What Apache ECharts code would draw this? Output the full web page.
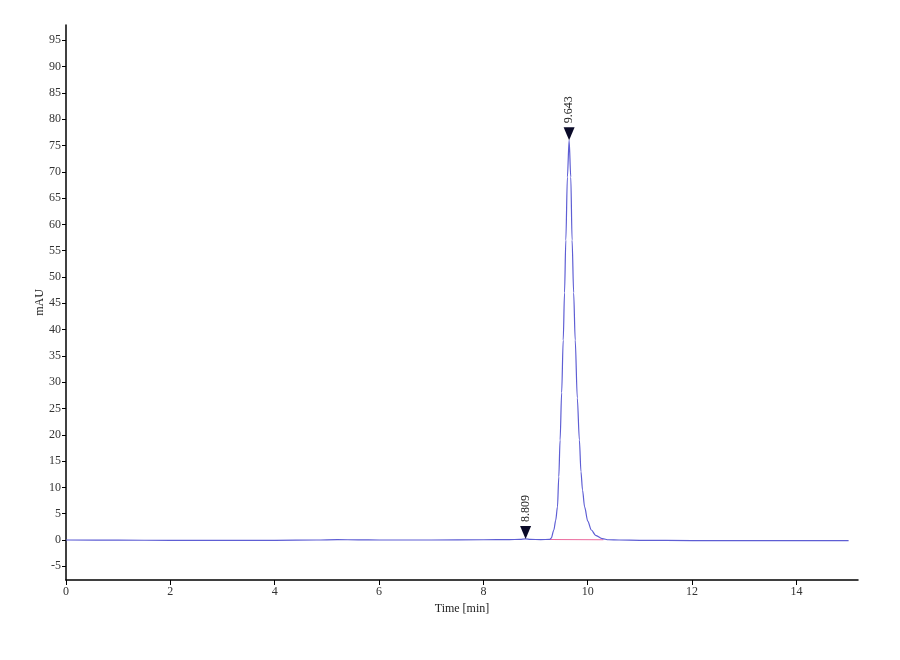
<!DOCTYPE html>
<html>
<head>
<meta charset="utf-8">
<script src="https://cdn.jsdelivr.net/npm/echarts@6/dist/echarts.min.js"></script>
<style>
  html, body { margin: 0; padding: 0; background: #fff; }
  #content { width: 900px; height: 660px; }
</style>
</head>
<body>
<div id="content"></div>
<script>
// chromatogram trace
const times = [0, 1, 2, 3, 4, 4.8, 5.2, 5.6, 6, 7, 8, 8.5, 8.7, 8.809, 8.9, 9.1, 9.27, 9.3,
  9.35, 9.385, 9.42, 9.445, 9.47, 9.5, 9.53, 9.555, 9.58, 9.61, 9.643, 9.675, 9.7, 9.73, 9.76, 9.8, 9.84,
  9.87, 9.9, 9.94, 10.0, 10.07, 10.15, 10.28, 10.4, 10.6, 11, 12, 13, 14, 15];
const mAU = [0, -0.03, -0.05, -0.07, -0.05, 0, 0.08, 0.03, 0, 0, 0.05, 0.08, 0.12, 0.2, 0.12, 0.08, 0.12, 0.35,
  1.9, 3.7, 6.3, 12, 19, 28, 38, 47, 57, 69, 76, 69, 57, 47, 38, 27, 19,
  13, 9.5, 6.3, 3.6, 1.9, 0.9, 0.25, 0.05, 0, -0.05, -0.1, -0.12, -0.12, -0.12];

// integrated peaks
const peakTimes = [8.809, 9.643];
const peakHeights = [0.2, 76];
const peakLabels = ['8.809', '9.643'];

// integration baseline under the main peak
const baseTimes = [9.27, 10.3];
const baseValues = [0.1, 0.05];

const yTicks = [-5, 0, 5, 10, 15, 20, 25, 30, 35, 40, 45, 50, 55, 60, 65, 70, 75, 80, 85, 90, 95];
const xTicks = [0, 2, 4, 6, 8, 10, 12, 14];

const font = 'Liberation Serif';

const chart = echarts.init(document.getElementById('content'));
const option = {
  backgroundColor: '#fff',
  animation: false,
  grid: { left: 66, right: 42, top: 25, bottom: 80 },
  xAxis: {
    type: 'value',
    min: 0,
    max: 15.18,
    name: 'Time [min]',
    nameLocation: 'middle',
    nameGap: 22,
    nameTextStyle: { fontFamily: font, fontSize: 12, color: '#222' },
    axisLine: { onZero: false, lineStyle: { color: '#000', width: 1.5 } },
    axisTick: { customValues: xTicks, length: 5, lineStyle: { color: '#000' } },
    axisLabel: { customValues: xTicks, fontFamily: font, fontSize: 12, color: '#333', margin: 6 },
    splitLine: { show: false }
  },
  yAxis: {
    type: 'value',
    min: -7.6,
    max: 97.9,
    name: 'mAU',
    nameLocation: 'middle',
    nameGap: 20,
    nameMoveOverlap: false,
    nameTextStyle: { fontFamily: font, fontSize: 12, color: '#222' },
    axisLine: { show: true, onZero: false, lineStyle: { color: '#000', width: 1.5 } },
    axisTick: { show: true, customValues: yTicks, length: 4, lineStyle: { color: '#000' } },
    axisLabel: { customValues: yTicks, fontFamily: font, fontSize: 12, color: '#333', margin: 5 },
    splitLine: { show: false }
  },
  series: [
    {
      type: 'line',
      data: baseTimes.map((t, i) => [t, baseValues[i]]),
      symbol: 'none',
      lineStyle: { color: '#ec6c9e', width: 1.2 },
      z: 1
    },
    {
      type: 'line',
      data: times.map((t, i) => [t, mAU[i]]),
      symbol: 'none',
      smooth: 0.3,
      smoothMonotone: 'x',
      lineStyle: { color: '#5e5ed4', width: 1.2 },
      z: 2,
      markPoint: {
        symbol: 'triangle',
        symbolRotate: 180,
        symbolSize: [11, 13],
        symbolOffset: [0, -6.5],
        itemStyle: { color: '#0a0a28' },
        label: {
          show: true,
          position: 'top',
          rotate: 90,
          align: 'left',
          verticalAlign: 'middle',
          distance: 4,
          fontFamily: font,
          fontSize: 12,
          color: '#222',
          formatter: p => p.name
        },
        data: peakTimes.map((t, i) => ({ name: peakLabels[i], coord: [t, peakHeights[i]] }))
      }
    }
  ]
};
chart.setOption(option);
</script>
</body>
</html>
